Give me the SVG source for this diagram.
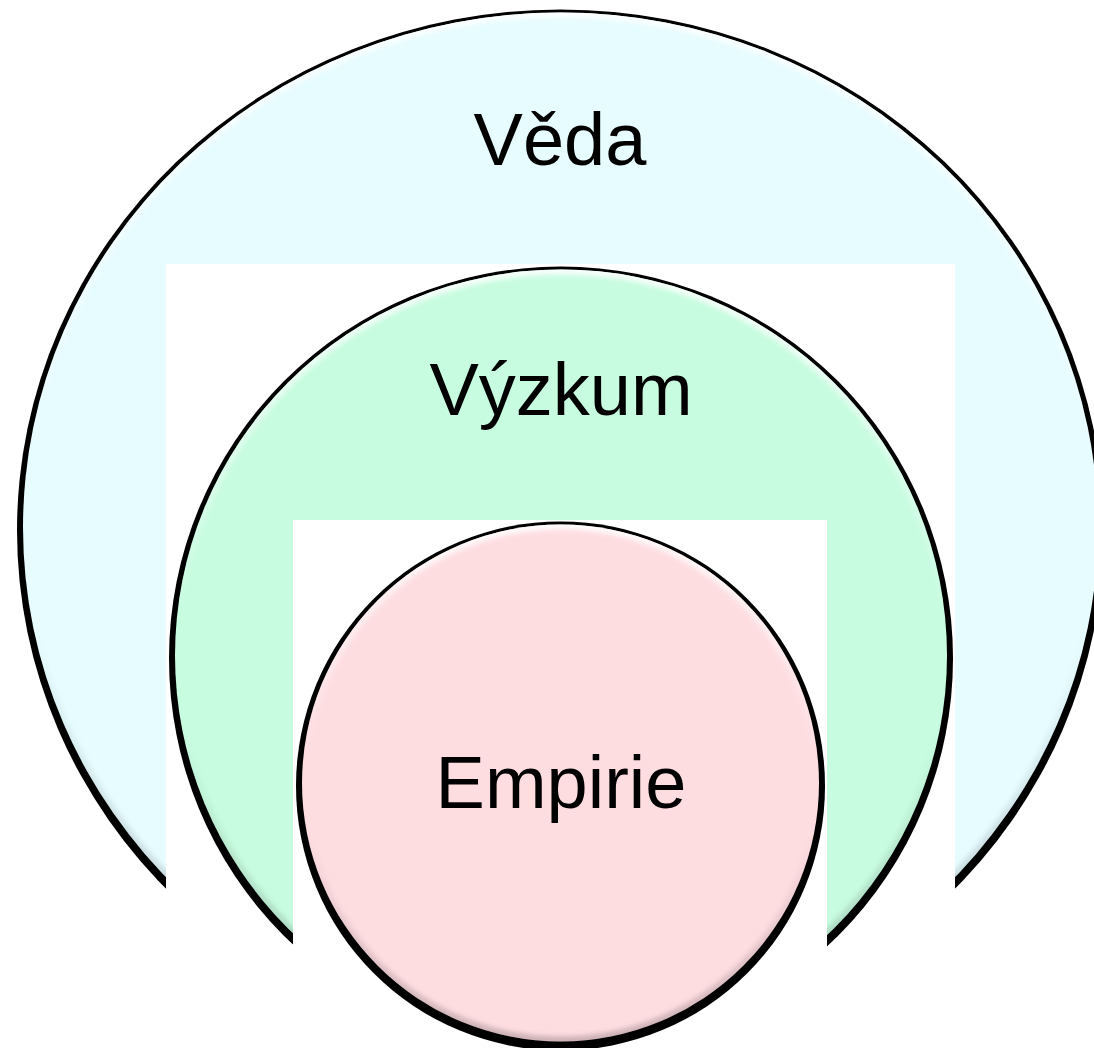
<svg xmlns="http://www.w3.org/2000/svg" width="1094" height="1048" viewBox="0 0 1094 1048">
  <style>
    .lbl { font-family: "Liberation Sans", Arial, sans-serif; font-size: 74px; fill: #000000; text-anchor: middle; }
    .shadow { fill: #000000; }
    .mask { fill: #ffffff; }
  </style>
  <defs>
    <filter id="soft" x="-5%" y="-5%" width="110%" height="110%">
      <feGaussianBlur stdDeviation="0.5"/>
    </filter>
    <filter id="bevelBlur" x="-5%" y="-5%" width="110%" height="110%">
      <feGaussianBlur stdDeviation="2.5"/>
    </filter>
    <linearGradient id="bevel" x1="0" y1="0" x2="0" y2="1">
      <stop offset="0" stop-color="#ffffff" stop-opacity="0.9"/>
      <stop offset="0.45" stop-color="#ffffff" stop-opacity="0"/>
      <stop offset="0.6" stop-color="#000000" stop-opacity="0"/>
      <stop offset="1" stop-color="#000000" stop-opacity="0.2"/>
    </linearGradient>
    <clipPath id="clipOuter"><ellipse cx="560.5" cy="527.5" rx="537.5" ry="515"/></clipPath>
    <clipPath id="clipMid"><circle cx="561" cy="655.5" r="386"/></clipPath>
    <clipPath id="clipInner"><circle cx="560.5" cy="783" r="258.5"/></clipPath>
  </defs>

  <g id="node-veda">
    <ellipse class="shadow" filter="url(#soft)" cx="560.5" cy="530.5" rx="543.5" ry="521"/>
    <ellipse cx="560.5" cy="527.5" rx="537.5" ry="515" fill="#E6FCFF"/>
    <ellipse clip-path="url(#clipOuter)" filter="url(#bevelBlur)" cx="560.5" cy="527.5" rx="537.5" ry="515" fill="none" stroke="url(#bevel)" stroke-width="10"/>
    <text class="lbl" x="560" y="165">Věda</text>
  </g>

  <rect class="mask" x="166" y="264" width="789" height="784"/>

  <g id="node-vyzkum">
    <circle class="shadow" filter="url(#soft)" cx="561" cy="658.5" r="392"/>
    <circle cx="561" cy="655.5" r="386" fill="#C7FCE0"/>
    <circle clip-path="url(#clipMid)" filter="url(#bevelBlur)" cx="561" cy="655.5" r="386" fill="none" stroke="url(#bevel)" stroke-width="10"/>
    <text class="lbl" x="561" y="415">Výzkum</text>
  </g>

  <rect class="mask" x="293" y="520" width="534" height="528"/>

  <g id="node-empirie">
    <circle class="shadow" filter="url(#soft)" cx="560.5" cy="786" r="264.5"/>
    <circle cx="560.5" cy="783" r="258.5" fill="#FEDDE1"/>
    <circle clip-path="url(#clipInner)" filter="url(#bevelBlur)" cx="560.5" cy="783" r="258.5" fill="none" stroke="url(#bevel)" stroke-width="10"/>
    <text class="lbl" x="561" y="808">Empirie</text>
  </g>

  <g id="connectors"/>
</svg>
